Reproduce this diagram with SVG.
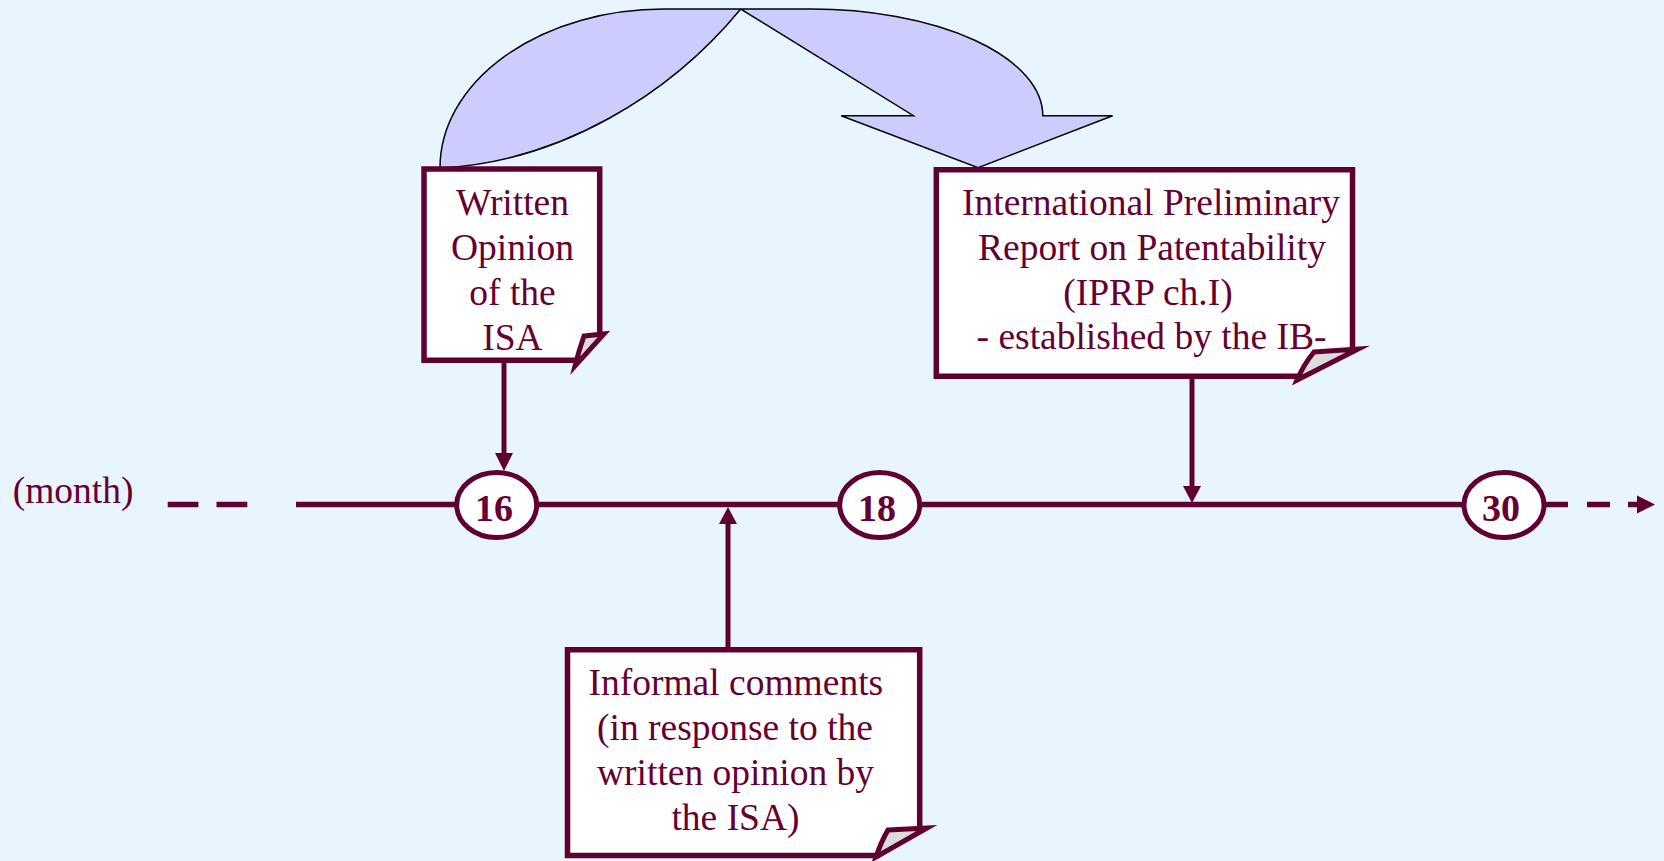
<svg xmlns="http://www.w3.org/2000/svg" width="1664" height="861" viewBox="0 0 1664 861">
  <style>
    .bg { fill: #E9F5FE; }
    .box { fill: #FFFFFF; stroke: #600030; stroke-width: 5.5; stroke-linejoin: miter; }
    .fold { fill: #DCDCDC; stroke: #600030; stroke-width: 5; stroke-linejoin: miter; stroke-miterlimit: 6; }
    .txt { font-family: "Liberation Serif", "Times New Roman", serif; font-size: 37.5px; fill: #660033; text-anchor: middle; }
    .num { font-family: "Liberation Serif", "Times New Roman", serif; font-size: 38px; font-weight: bold; fill: #660033; text-anchor: middle; }
    .axis { stroke: #600030; stroke-width: 5.5; fill: none; }
    .mark { fill: #FFFFFF; stroke: #600030; stroke-width: 5; }
    .shaft { stroke: #600030; stroke-width: 5; fill: none; }
    .head { fill: #600030; }
    .curl { fill: #CCCCFF; stroke: #000000; stroke-width: 1.5; stroke-linejoin: miter; }
  </style>

  <rect class="bg" x="0" y="0" width="1664" height="861"/>

  <!-- curved transfer arrow from the written opinion to the IPRP -->
  <g id="curved-arrow">
    <path class="curl" d="M440,168 A224,159 0 0 1 664,9 L810.6,9 A232,106.7 0 0 1 1042.8,115.7 L1112.6,115.7 L978.1,167.7 L841.2,115.7 L913.4,115.7 L740.7,9 C670,95 560,162 440,168 Z"/>
  </g>

  <!-- time axis -->
  <g id="timeline">
    <text class="txt" x="12.7" y="503" style="text-anchor:start">(month)</text>
    <line class="axis" x1="167.7" y1="504.5" x2="198.4" y2="504.5"/>
    <line class="axis" x1="216.5" y1="504.5" x2="247.3" y2="504.5"/>
    <line class="axis" x1="296" y1="504.5" x2="1568" y2="504.5"/>
    <line class="axis" x1="1587" y1="504.5" x2="1610" y2="504.5"/>
    <line class="axis" x1="1628" y1="504.5" x2="1640" y2="504.5"/>
    <polygon class="head" points="1637,495.5 1655,504.5 1637,513.5"/>
  </g>

  <g id="month-16">
    <ellipse class="mark" cx="496.7" cy="505" rx="40" ry="32.5"/>
    <text class="num" x="494" y="521">16</text>
  </g>
  <g id="month-18">
    <ellipse class="mark" cx="879.7" cy="505" rx="40" ry="32.5"/>
    <text class="num" x="877" y="521">18</text>
  </g>
  <g id="month-30">
    <ellipse class="mark" cx="1504" cy="505" rx="40" ry="32.5"/>
    <text class="num" x="1501" y="521">30</text>
  </g>

  <!-- connectors from the notes to the axis -->
  <g id="connectors">
    <line class="shaft" x1="504" y1="363" x2="504" y2="456"/>
    <polygon class="head" points="495,453 513,453 504,471"/>
    <line class="shaft" x1="1192" y1="379" x2="1192" y2="489"/>
    <polygon class="head" points="1183,486 1201,486 1192,503"/>
    <line class="shaft" x1="728" y1="647" x2="728" y2="521"/>
    <polygon class="head" points="719,524 737,524 728,507"/>
  </g>

  <g id="written-opinion">
    <path class="box" d="M424,169 H599.7 V334 L578,360.3 H424 Z"/>
    <path class="fold" d="M584,336 L604,334 L575,366 Q579,350 584,336 Z"/>
    <text class="txt" x="512.5" y="215">Written</text>
    <text class="txt" x="512.5" y="260">Opinion</text>
    <text class="txt" x="512.5" y="305">of the</text>
    <text class="txt" x="512.5" y="349.5">ISA</text>
  </g>

  <g id="iprp">
    <path class="box" d="M936.3,169.7 H1352.5 V349 L1300,376.3 H936.3 Z"/>
    <path class="fold" d="M1314,352 L1358,349 L1297,380 Q1304,364 1314,352 Z"/>
    <text class="txt" x="1151" y="215">International Preliminary</text>
    <text class="txt" x="1152" y="260">Report on Patentability</text>
    <text class="txt" x="1148" y="304.5">(IPRP ch.I)</text>
    <text class="txt" x="1151.5" y="349">- established by the IB-</text>
  </g>

  <g id="informal-comments">
    <path class="box" d="M567.5,649.7 H919.7 V828 L878,855.5 H567.5 Z"/>
    <path class="fold" d="M888,830 L927,828 L876,857 Q881,842 888,830 Z"/>
    <text class="txt" x="735.8" y="695">Informal comments</text>
    <text class="txt" x="735" y="740">(in response to the</text>
    <text class="txt" x="735.5" y="785">written opinion by</text>
    <text class="txt" x="735.5" y="830">the ISA)</text>
  </g>
</svg>
